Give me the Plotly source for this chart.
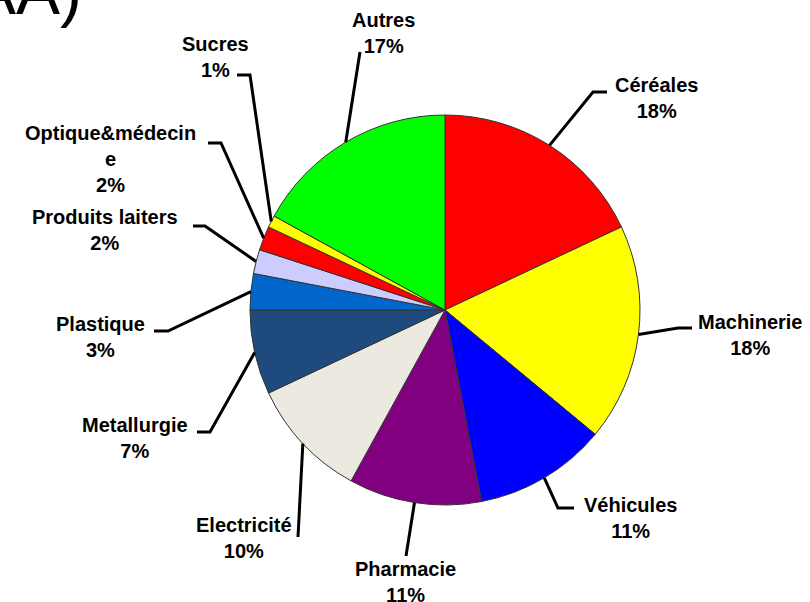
import math
import plotly.graph_objects as go

# ---- data ----
labels = ["Céréales", "Machinerie", "Véhicules", "Pharmacie", "Electricité",
          "Metallurgie", "Plastique", "Produits laiters", "Optique&médecine",
          "Sucres", "Autres"]
label_text = ["Céréales", "Machinerie", "Véhicules", "Pharmacie", "Electricité",
              "Metallurgie", "Plastique", "Produits laiters", "Optique&médecin<br>e",
              "Sucres", "Autres"]
values = [18, 18, 11, 11, 10, 7, 3, 2, 2, 1, 17]
colors = ["#FF0000", "#FFFF00", "#0000FF", "#800080", "#ECEAE0",
          "#1F4A7E", "#0066CC", "#CCCCFF", "#FF0000", "#FFFF00", "#00FF00"]

# ---- layout (pixels) ----
W, H = 810, 602
CX, CY, R = 445, 310, 195
# elbow point, end of horizontal tick (or None), label centre
label_layout = [
    ((593, 92), (607, 92), (656, 98)),
    ((678, 328), (692, 328), (750, 335)),
    ((558, 508), (574, 508), (630, 518)),
    ((406, 556), None, (405, 582)),
    ((298, 537), None, (244, 538)),
    ((210, 432), (197, 432), (135, 438)),
    ((168, 331), (154, 331), (100, 337)),
    ((205, 226), (193, 226), (105, 230)),
    ((221, 143), (208, 143), (110, 159)),
    ((250, 75), (237, 75), (215, 57)),
    ((360, 52), None, (383, 33)),
]

def px(x):
    return x / W

def py(y):
    return 1 - y / H

fig = go.Figure(go.Pie(
    labels=labels, values=values, sort=False, direction="clockwise", rotation=0,
    marker=dict(colors=colors, line=dict(color="#333333", width=1)),
    textinfo="none", hole=0,
    domain=dict(x=[px(CX - R), px(CX + R)], y=[py(CY + R), py(CY - R)]),
    showlegend=False,
))

total = sum(values)
cum = 0
shapes = []
annotations = []
for lab, v, (elbow, end, tc) in zip(label_text, values, label_layout):
    mid = (cum + v / 2) / total
    cum += v
    th = 2 * math.pi * mid
    ax = CX + R * math.sin(th)
    ay = CY - R * math.cos(th)
    pts = [(ax, ay), elbow] + ([end] if end else [])
    path = "M " + " L ".join(f"{px(x):.5f},{py(y):.5f}" for x, y in pts)
    shapes.append(dict(type="path", xref="paper", yref="paper", path=path,
                       line=dict(color="black", width=3)))
    pct = round(100 * v / total)
    annotations.append(dict(
        x=px(tc[0]), y=py(tc[1]), xref="paper", yref="paper",
        text=f"{lab}<br>{pct}%", showarrow=False,
        xanchor="center", yanchor="middle", align="center",
        font=dict(family="Liberation Sans, Arial, sans-serif", size=20,
                  color="black", weight="bold"),
    ))

annotations.append(dict(
    x=px(84), y=py(30), xref="paper", yref="paper", text="AA)",
    showarrow=False, xanchor="right", yanchor="bottom",
    font=dict(family="Liberation Sans, Arial, sans-serif", size=66, color="black"),
))

fig.update_layout(
    width=W, height=H, margin=dict(l=0, r=0, t=0, b=0),
    paper_bgcolor="white", plot_bgcolor="white",
    shapes=shapes, annotations=annotations,
)
fig.write_html("out.html", config={"displayModeBar": False},
               post_script="document.body.style.margin='0px';")
